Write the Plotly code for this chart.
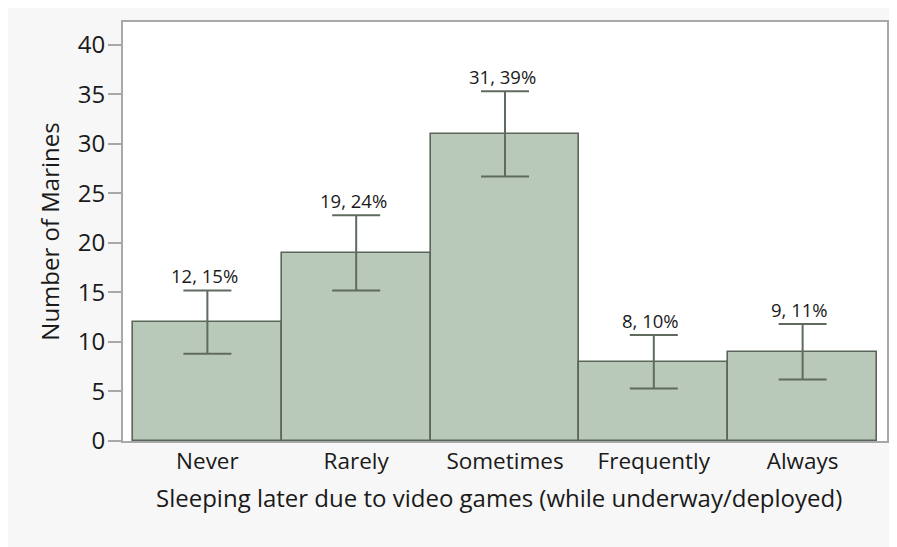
import plotly.graph_objects as go

categories = ["Never", "Rarely", "Sometimes", "Frequently", "Always"]
counts = [12, 19, 31, 8, 9]
percents = ["15%", "24%", "39%", "10%", "11%"]
errors = [3.2, 3.8, 4.3, 2.7, 2.8]
y_ticks = [0, 5, 10, 15, 20, 25, 30, 35, 40]

labels = [f"{c}, {p}" for c, p in zip(counts, percents)]
label_y = [c + e for c, e in zip(counts, errors)]

FONT = "Open Sans"
TXT = "#1a1a1a"
fig = go.Figure()
fig.add_trace(go.Bar(
    x=categories, y=counts, width=1.0,
    marker=dict(color="#b9c9b9", line=dict(color="#5a665a", width=1.6)),
    error_y=dict(type="data", array=errors, visible=True, color="#5f6b5f",
                 thickness=2, width=24),
    hoverinfo="skip", showlegend=False,
))
for cat, ly, lab in zip(categories, label_y, labels):
    fig.add_annotation(x=cat, y=ly, text=lab, showarrow=False,
                       xanchor="center", yanchor="bottom", xshift=-3,
                       font=dict(family=FONT, size=18.5, color=TXT))

# page body has an 8px default margin, so the figure is 8px smaller
W, H = 889, 539
L, R, T, B = 115, 10, 14, 106
pw, ph = W - L - R, H - T - B

fig.add_annotation(xref="paper", yref="paper",
                   x=(499 - 8 - L) / pw, y=-(497 - 441) / ph,
                   xanchor="center", yanchor="middle", showarrow=False,
                   text="Sleeping later due to video games (while underway/deployed)",
                   font=dict(family=FONT, size=24, color=TXT))

fig.update_layout(
    width=W, height=H,
    margin=dict(l=L, r=R, t=T, b=B, pad=0),
    paper_bgcolor="#f7f7f7", plot_bgcolor="white",
    font=dict(family=FONT, color=TXT),
    bargap=0,
    xaxis=dict(
        type="category", range=[-0.567, 4.567], automargin=False,
        showgrid=False, showline=True, linecolor="#a8a8a8", linewidth=2,
        mirror=True, ticks="", tickfont=dict(size=22.5, color=TXT),
        ticklabelstandoff=-1,
    ),
    yaxis=dict(
        range=[0, 42.3], tickvals=y_ticks, showgrid=False, zeroline=False,
        automargin=False,
        showline=True, linecolor="#a8a8a8", linewidth=2, mirror=True,
        ticks="outside", ticklen=13, tickcolor="#a8a8a8", tickwidth=2,
        tickfont=dict(size=24, color=TXT), ticklabelstandoff=-2,
        title=dict(text="Number of Marines", font=dict(size=24, color=TXT),
                   standoff=11),
    ),
)
fig.write_html("out.html")
